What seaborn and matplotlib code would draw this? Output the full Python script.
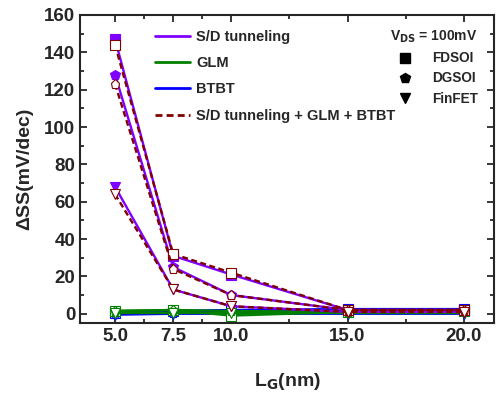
import numpy as np
import pandas as pd
import matplotlib
matplotlib.use("Agg")
import matplotlib.pyplot as plt
from matplotlib.lines import Line2D
from matplotlib.ticker import MultipleLocator, FixedLocator
import seaborn as sns

# gate length (nm)
lg = [5.0, 7.5, 10.0, 15.0, 20.0]

# delta SS (mV/dec) per mechanism and device
sd_fdsoi = [147, 31, 21, 2, 2]
sd_dgsoi = [128, 25, 10, 2, 2]
sd_finfet = [68, 13, 4, 1, 1]

glm_fdsoi = [1.5, 2.0, -1.0, 1.0, 1.5]
glm_dgsoi = [1.5, 2.0, 1.5, 1.0, 1.5]
glm_finfet = [0.5, 0.5, 0.5, 0.5, 0.5]

btbt_fdsoi = [0.5, 1.5, 2.0, 2.5, 2.5]
btbt_dgsoi = [0.0, 0.5, 1.0, 1.5, 1.5]
btbt_finfet = [-0.5, 0.0, 0.0, 0.0, 0.0]

tot_fdsoi = [144, 32, 22, 2, 2]
tot_dgsoi = [123, 24, 10, 2, 2]
tot_finfet = [64, 13, 4, 1, 1]

sns.set_style("ticks")
plt.rcParams['font.family'] = ['Liberation Sans', 'DejaVu Sans']
plt.rcParams['font.weight'] = 'bold'
plt.rcParams['mathtext.default'] = 'bf'

fig = plt.figure(figsize=(4.98, 3.94), dpi=100)
ax = fig.add_axes([0.161, 0.180, 0.831, 0.782])

purple = '#8000ff'
green = '#008000'
blue = '#0000ff'
brown = '#800000'
markers = ['s', 'p', 'v']

def draw(vals, color, mk, dashed=False, filled=True, z=2):
    sns.lineplot(x=lg, y=vals, ax=ax, color=color, lw=1.7,
                 linestyle=(0, (2.5, 1.5)) if dashed else '-',
                 marker=mk, markersize=7.5 if filled else 6.5,
                 markerfacecolor=color if filled else 'white',
                 markeredgecolor=color, markeredgewidth=0.8,
                 zorder=z, legend=False)

for vals, mk in zip([btbt_fdsoi, btbt_dgsoi, btbt_finfet], markers):
    draw(vals, blue, mk, filled=False, z=2)
for vals, mk in zip([glm_fdsoi, glm_dgsoi, glm_finfet], markers):
    draw(vals, green, mk, filled=False, z=2)
for vals, mk in zip([sd_fdsoi, sd_dgsoi, sd_finfet], markers):
    draw(vals, purple, mk, filled=True, z=3)
for vals, mk in zip([tot_fdsoi, tot_dgsoi, tot_finfet], markers):
    draw(vals, brown, mk, dashed=True, filled=False, z=4)

ax.set_xlim(3.5, 21.3)
ax.set_ylim(-5, 160)
ax.xaxis.set_major_locator(FixedLocator(lg))
ax.xaxis.set_minor_locator(FixedLocator([6.25, 8.75, 12.5, 17.5]))
ax.set_xticklabels([f'{v:.1f}' for v in lg])
ax.yaxis.set_major_locator(MultipleLocator(20))
ax.yaxis.set_minor_locator(MultipleLocator(10))
ax.tick_params(which='both', direction='in', top=True, right=True, width=1.3)
ax.tick_params(which='major', length=5, labelsize=13.5)
ax.tick_params(which='minor', length=3)
for lab in ax.get_xticklabels() + ax.get_yticklabels():
    lab.set_fontweight('bold')
for s in ax.spines.values():
    s.set_linewidth(1.5)

ax.set_xlabel('L$_G$(nm)', fontsize=14, fontweight='bold', labelpad=19)
ax.set_ylabel('ΔSS(mV/dec)', fontsize=14, fontweight='bold', labelpad=8)

h1 = [Line2D([], [], color=purple, lw=2),
      Line2D([], [], color=green, lw=2),
      Line2D([], [], color=blue, lw=2),
      Line2D([], [], color=brown, lw=2, ls=(0, (2.5, 1.5)))]
leg1 = ax.legend(h1, ['S/D tunneling', 'GLM', 'BTBT', 'S/D tunneling + GLM + BTBT'],
                 loc='upper left', bbox_to_anchor=(0.15, 0.995), frameon=False,
                 prop={'weight': 'bold', 'size': 10.5}, handlelength=2.4,
                 labelspacing=0.85, handletextpad=0.4)
ax.add_artist(leg1)

h2 = [Line2D([], [], color='black', marker=m, ls='none', markersize=7) for m in markers]
leg2 = ax.legend(h2, ['FDSOI', 'DGSOI', 'FinFET'], loc='upper right',
                 bbox_to_anchor=(0.99, 0.995), frameon=False,
                 title='V$_{DS}$ = 100mV',
                 prop={'weight': 'bold', 'size': 9.8}, handlelength=1.0,
                 handletextpad=1.5, labelspacing=0.45)
leg2.get_title().set_fontweight('bold')
leg2.get_title().set_fontsize(10)
leg2._legend_box.align = 'right'

fig.savefig('out.png', dpi=100)
